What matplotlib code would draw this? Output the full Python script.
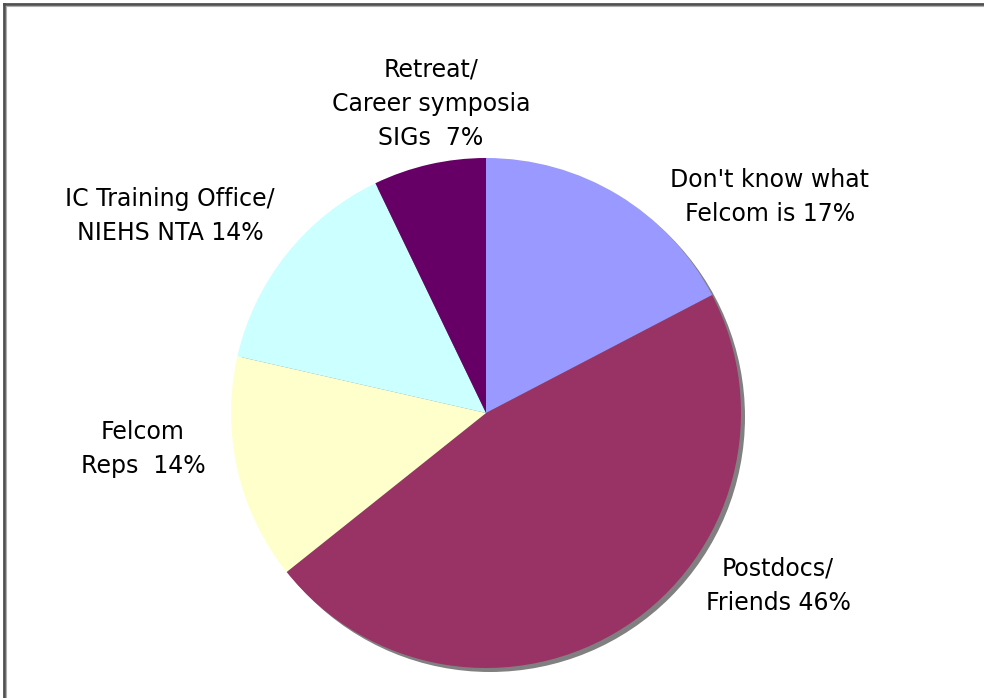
import matplotlib.pyplot as plt
from matplotlib.patches import Circle
from matplotlib.lines import Line2D

# survey answers: how people heard about Felcom
labels = ["Don't know what\nFelcom is 17%",
          "Postdocs/\nFriends 46%",
          "Felcom\nReps  14%",
          "IC Training Office/\nNIEHS NTA 14%",
          "Retreat/\nCareer symposia\nSIGs  7%"]
shares = [17, 46, 14, 14, 7]
colors = ["#9999FF", "#993366", "#FFFFCC", "#CCFFFF", "#660066"]

W, H = 984, 698
fig = plt.figure(figsize=(W / 100, H / 100), dpi=100)
ax = fig.add_axes([0, 0, 1, 1])

cx, cy, r = 486, H - 413, 255

# drop shadow under the pie
ax.add_patch(Circle((cx + 4, cy - 4), r, color="#808080", lw=0, zorder=0))
ax.pie(shares, colors=colors, startangle=90, counterclock=False,
       center=(cx, cy), radius=r, wedgeprops=dict(linewidth=0))

ax.set_xlim(0, W)
ax.set_ylim(0, H)
ax.set_aspect("equal")
ax.axis("off")

# label positions (x, y from top)
label_pos = [(770, 197), (778, 586), (143, 449), (170, 216), (431, 104)]
for txt, (x, y) in zip(labels, label_pos):
    ax.text(x, H - y, txt, ha="center", va="center", fontsize=17,
            linespacing=1.55, color="black")

# frame along top and left edge
fig.add_artist(Line2D([4 / W, 4 / W], [0, 1 - 4 / H], transform=fig.transFigure,
                      color="#505050", lw=2))
fig.add_artist(Line2D([4 / W, 1], [1 - 4 / H, 1 - 4 / H], transform=fig.transFigure,
                      color="#505050", lw=2))
fig.add_artist(Line2D([5.5 / W, 5.5 / W], [0, 1 - 5.5 / H], transform=fig.transFigure,
                      color="#b0b0b0", lw=0.8))
fig.add_artist(Line2D([5.5 / W, 1], [1 - 5.5 / H, 1 - 5.5 / H], transform=fig.transFigure,
                      color="#b0b0b0", lw=0.8))

fig.savefig("out.png", dpi=100)
